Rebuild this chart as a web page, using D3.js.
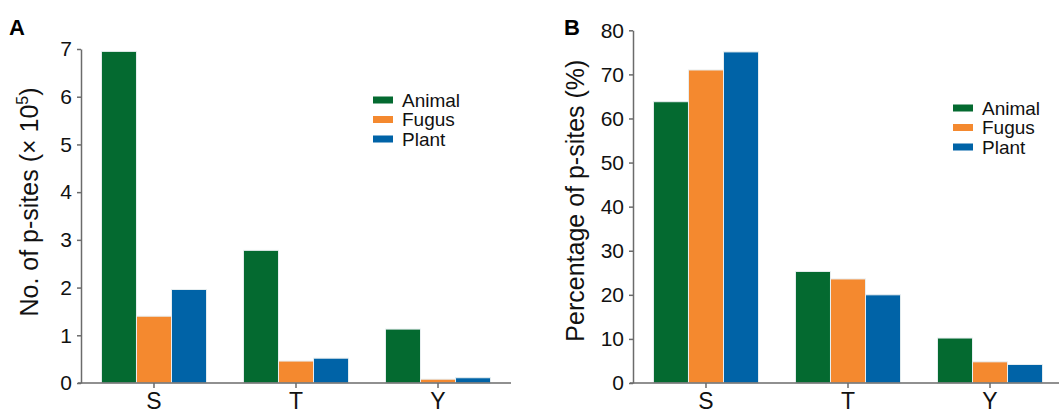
<!DOCTYPE html>
<html>
<head>
<meta charset="utf-8">
<script src="https://cdn.jsdelivr.net/npm/d3@7"></script>
<style>
  body { margin: 0; background: #fff; }
  svg { display: block; font-family: "Liberation Sans", Arial, sans-serif; }
</style>
</head>
<body>
<div class="container"></div>
<script>
const sites = ["S", "T", "Y"];
const groups = ["Animal", "Fugus", "Plant"];
const colors = ["#046a30", "#f4892f", "#0063a7"];

// panel A: number of p-sites (x 10^5)
const countAnimal = [6.95, 2.78, 1.13];
const countFugus = [1.40, 0.46, 0.08];
const countPlant = [1.96, 0.52, 0.11];

// panel B: percentage of p-sites
const pctAnimal = [63.8, 25.3, 10.2];
const pctFugus = [71.0, 23.6, 4.8];
const pctPlant = [75.1, 20.0, 4.2];

const w = 1059;
const h = 414;

const svg = d3.select(".container")
  .append("svg")
  .attr("width", w)
  .attr("height", h);

function drawPanel(opts) {
  const g = svg.append("g");
  const series = [opts.a, opts.f, opts.p];

  const xScale = d3.scaleBand()
    .domain(sites)
    .range([opts.x0, opts.x1])
    .paddingInner(0.26)
    .paddingOuter(0.144);
  const sub = d3.scaleBand()
    .domain(groups)
    .range([0, xScale.bandwidth()]);
  const yScale = d3.scaleLinear()
    .domain([0, opts.max])
    .range([opts.yBottom, opts.yTop]);

  for (let s = 0; s < series.length; s++) {
    g.selectAll(".bar" + s)
      .data(series[s])
      .enter()
      .append("rect")
      .attr("x", (d, i) => xScale(sites[i]) + sub(groups[s]))
      .attr("y", (d) => yScale(d))
      .attr("width", sub.bandwidth())
      .attr("height", (d) => yScale(0) - yScale(d))
      .attr("fill", colors[s])
      .attr("stroke", "#e8eef0")
      .attr("stroke-width", 1);
  }

  const xAxis = d3.axisBottom(xScale).tickSize(5).tickSizeOuter(0);
  const yAxis = d3.axisLeft(yScale).ticks(opts.ticks).tickSize(4).tickSizeOuter(0).tickPadding(5);

  const gx = g.append("g")
    .attr("transform", "translate(0," + opts.yBottom + ")")
    .call(xAxis);
  gx.select(".domain").attr("d", "M" + (opts.x0 - 3) + ",0H" + opts.x1);
  gx.selectAll("text").attr("font-size", 23).attr("fill", "#111").attr("dy", "0.78em");

  const gy = g.append("g")
    .attr("transform", "translate(" + opts.x0 + ",0)")
    .call(yAxis);
  gy.selectAll("text").attr("font-size", 21).attr("fill", "#111");

  g.selectAll(".domain, .tick line").attr("stroke", "#6b6b6b").attr("stroke-width", 1.5);

  // axis title
  const title = g.append("text")
    .attr("transform", "translate(" + opts.titleX + "," + ((opts.yTop + opts.yBottom) / 2 + opts.titleShift) + ") rotate(-90)")
    .attr("text-anchor", "middle")
    .attr("font-size", 25)
    .attr("fill", "#111");
  title.append("tspan").text(opts.title);
  if (opts.sup) {
    title.append("tspan").attr("font-size", 16).attr("dy", -10).text(opts.sup);
    title.append("tspan").attr("dy", 10).text(")");
  }

  // panel letter
  g.append("text")
    .attr("x", opts.letterX)
    .attr("y", 35)
    .attr("font-size", 22)
    .attr("font-weight", "bold")
    .attr("fill", "#000")
    .text(opts.letter);

  // legend
  const lg = g.append("g").attr("transform", "translate(" + opts.legX + "," + opts.legY + ")");
  groups.forEach((name, i) => {
    lg.append("rect")
      .attr("x", 0)
      .attr("y", i * 19.5 - 3.5)
      .attr("width", 20)
      .attr("height", 7)
      .attr("fill", colors[i]);
    lg.append("text")
      .attr("x", 29)
      .attr("y", i * 19.5)
      .attr("dy", "0.35em")
      .attr("font-size", 19)
      .attr("fill", "#111")
      .text(name);
  });
}

drawPanel({
  a: countAnimal, f: countFugus, p: countPlant,
  x0: 81, x1: 511, yTop: 49, yBottom: 383, max: 7, ticks: 7,
  title: "No. of p-sites (× 10", sup: "5",
  titleX: 38, titleShift: -14, letter: "A", letterX: 9,
  legX: 373, legY: 100
});

drawPanel({
  a: pctAnimal, f: pctFugus, p: pctPlant,
  x0: 633, x1: 1063, yTop: 30.3, yBottom: 383, max: 80, ticks: 8,
  title: "Percentage of p-sites (%)", sup: null,
  titleX: 584, titleShift: -6, letter: "B", letterX: 564,
  legX: 953, legY: 108
});
</script>
</body>
</html>
